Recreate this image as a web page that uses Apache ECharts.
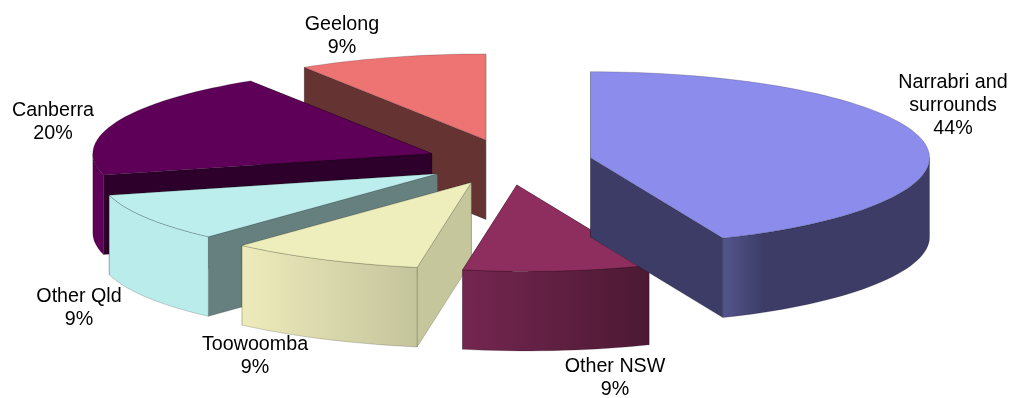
<!DOCTYPE html>
<html>
<head>
<meta charset="utf-8">
<style>html,body{margin:0;padding:0;background:#fff}#chart{width:1025px;height:398px}</style>
<script src="https://cdn.jsdelivr.net/npm/echarts@6/dist/echarts.min.js"></script>
</head>
<body>
<div id="chart"></div>
<script>
// Share of total by location, clockwise from twelve o'clock.
const locations = ['Narrabri and\nsurrounds', 'Other NSW', 'Toowoomba', 'Other Qld', 'Canberra', 'Geelong'];
const shares = [44, 9, 9, 9, 20, 9];

// Back-to-front painting order of the slices.
const paintOrder = [5, 4, 3, 2, 1, 0];

const topColors = ['#8C8CEC', '#8E2E5E', '#EEEEBD', '#BDEEEE', '#5E0058', '#EE7474'];
const sideColors = ['#3C3C66', '#5A1C3C', '#C6C69C', '#668080', '#2C002A', '#663333'];
const rimStart = ['#55558F', '#742650', '#EEEBBB', '#BBECEC', '#5E0058', '#EE7474'];
const rimEnd = ['#3C3C66', '#4C1933', '#C4C49C', '#BBECEC', '#5E0058', '#EE7474'];
const labelAnchors = [[953, 106], [615, 378], [255, 356], [79, 308], [53, 122], [342, 36]];

// Projection of the tilted disc: the near half is slightly deeper and leans to the right.
const disc = { x: 509, y: 162, rx: 339, ryBack: 86, ryFront: 86.5, lean: 10, depth: 79.5, pullX: 83, pullY: 23 };
const rad = d => d * Math.PI / 180;
const total = shares.reduce((a, b) => a + b, 0);

const sliceAngles = [];
shares.reduce((start, v) => {
  const end = start + v / total * 360;
  sliceAngles.push([start, end]);
  return end;
}, 0);

function rimPoint(c, deg, drop) {
  const s = Math.sin(rad(deg)), k = Math.cos(rad(deg));
  const near = Math.max(0, -k);
  return [
    c[0] + disc.rx * s + disc.lean * Math.pow(near, 4),
    c[1] - k * (k < 0 ? disc.ryFront : disc.ryBack) + drop
  ];
}

function arc(c, from, to, drop) {
  const pts = [];
  const n = Math.max(2, Math.ceil(Math.abs(to - from) / 2));
  for (let i = 0; i <= n; i++) pts.push(rimPoint(c, from + (to - from) * i / n, drop));
  return pts;
}

function renderSlice(params, api) {
  const i = api.value(0);
  const [a0, a1] = sliceAngles[i];
  const mid = rad((a0 + a1) / 2);
  const c = [disc.x + disc.pullX * Math.sin(mid), disc.y - disc.pullY * Math.cos(mid)];
  const base = params.dataIndex * 10;
  const edge = { stroke: 'rgba(0,0,0,0.3)', lineWidth: 0.6 };
  const children = [];

  // Radial walls, the one reaching further back first.
  const walls = [a0, a1].map(a => ({ a, tip: rimPoint(c, a, 0) })).sort((p, q) => p.tip[1] - q.tip[1]);
  walls.forEach((w, k) => {
    const low = rimPoint(c, w.a, disc.depth);
    children.push({
      type: 'polygon', z2: base + k,
      shape: { points: [c, w.tip, low, [c[0], c[1] + disc.depth]] },
      style: Object.assign({ fill: sideColors[i] }, edge)
    });
  });

  // Outer rim, only where it faces the viewer.
  const from = Math.max(a0, 90), to = Math.min(a1, 270);
  if (to > from) {
    const flip = a1 <= 180;
    children.push({
      type: 'polygon', z2: base + 3,
      shape: { points: arc(c, from, to, 0).concat(arc(c, to, from, disc.depth)) },
      style: Object.assign({
        fill: {
          type: 'linear', x: 0, y: 0, x2: 1, y2: 0,
          colorStops: i === 0
            ? [{ offset: 0, color: rimStart[i] }, { offset: 0.2, color: rimEnd[i] }, { offset: 1, color: rimEnd[i] }]
            : [{ offset: 0, color: flip ? rimEnd[i] : rimStart[i] }, { offset: 1, color: flip ? rimStart[i] : rimEnd[i] }]
        }
      }, edge)
    });
  }

  // Top face.
  children.push({
    type: 'polygon', z2: base + 4,
    shape: { points: [c].concat(arc(c, a0, a1, 0)) },
    style: Object.assign({ fill: topColors[i] }, edge)
  });

  // Caption.
  children.push({
    type: 'text', z2: 500,
    style: {
      text: locations[i] + '\n' + api.value(1) + '%',
      x: labelAnchors[i][0], y: labelAnchors[i][1],
      align: 'center', verticalAlign: 'middle',
      font: '19.7px "Liberation Sans", Arial, sans-serif',
      lineHeight: 23, fill: '#000'
    }
  });
  return { type: 'group', children };
}

const chart = echarts.init(document.getElementById('chart'), null, { renderer: 'canvas' });
chart.setOption({
  animation: false,
  backgroundColor: '#fff',
  series: [{
    type: 'custom',
    coordinateSystem: 'none',
    renderItem: renderSlice,
    data: paintOrder.map(i => [i, shares[i]])
  }]
});
</script>
</body>
</html>
